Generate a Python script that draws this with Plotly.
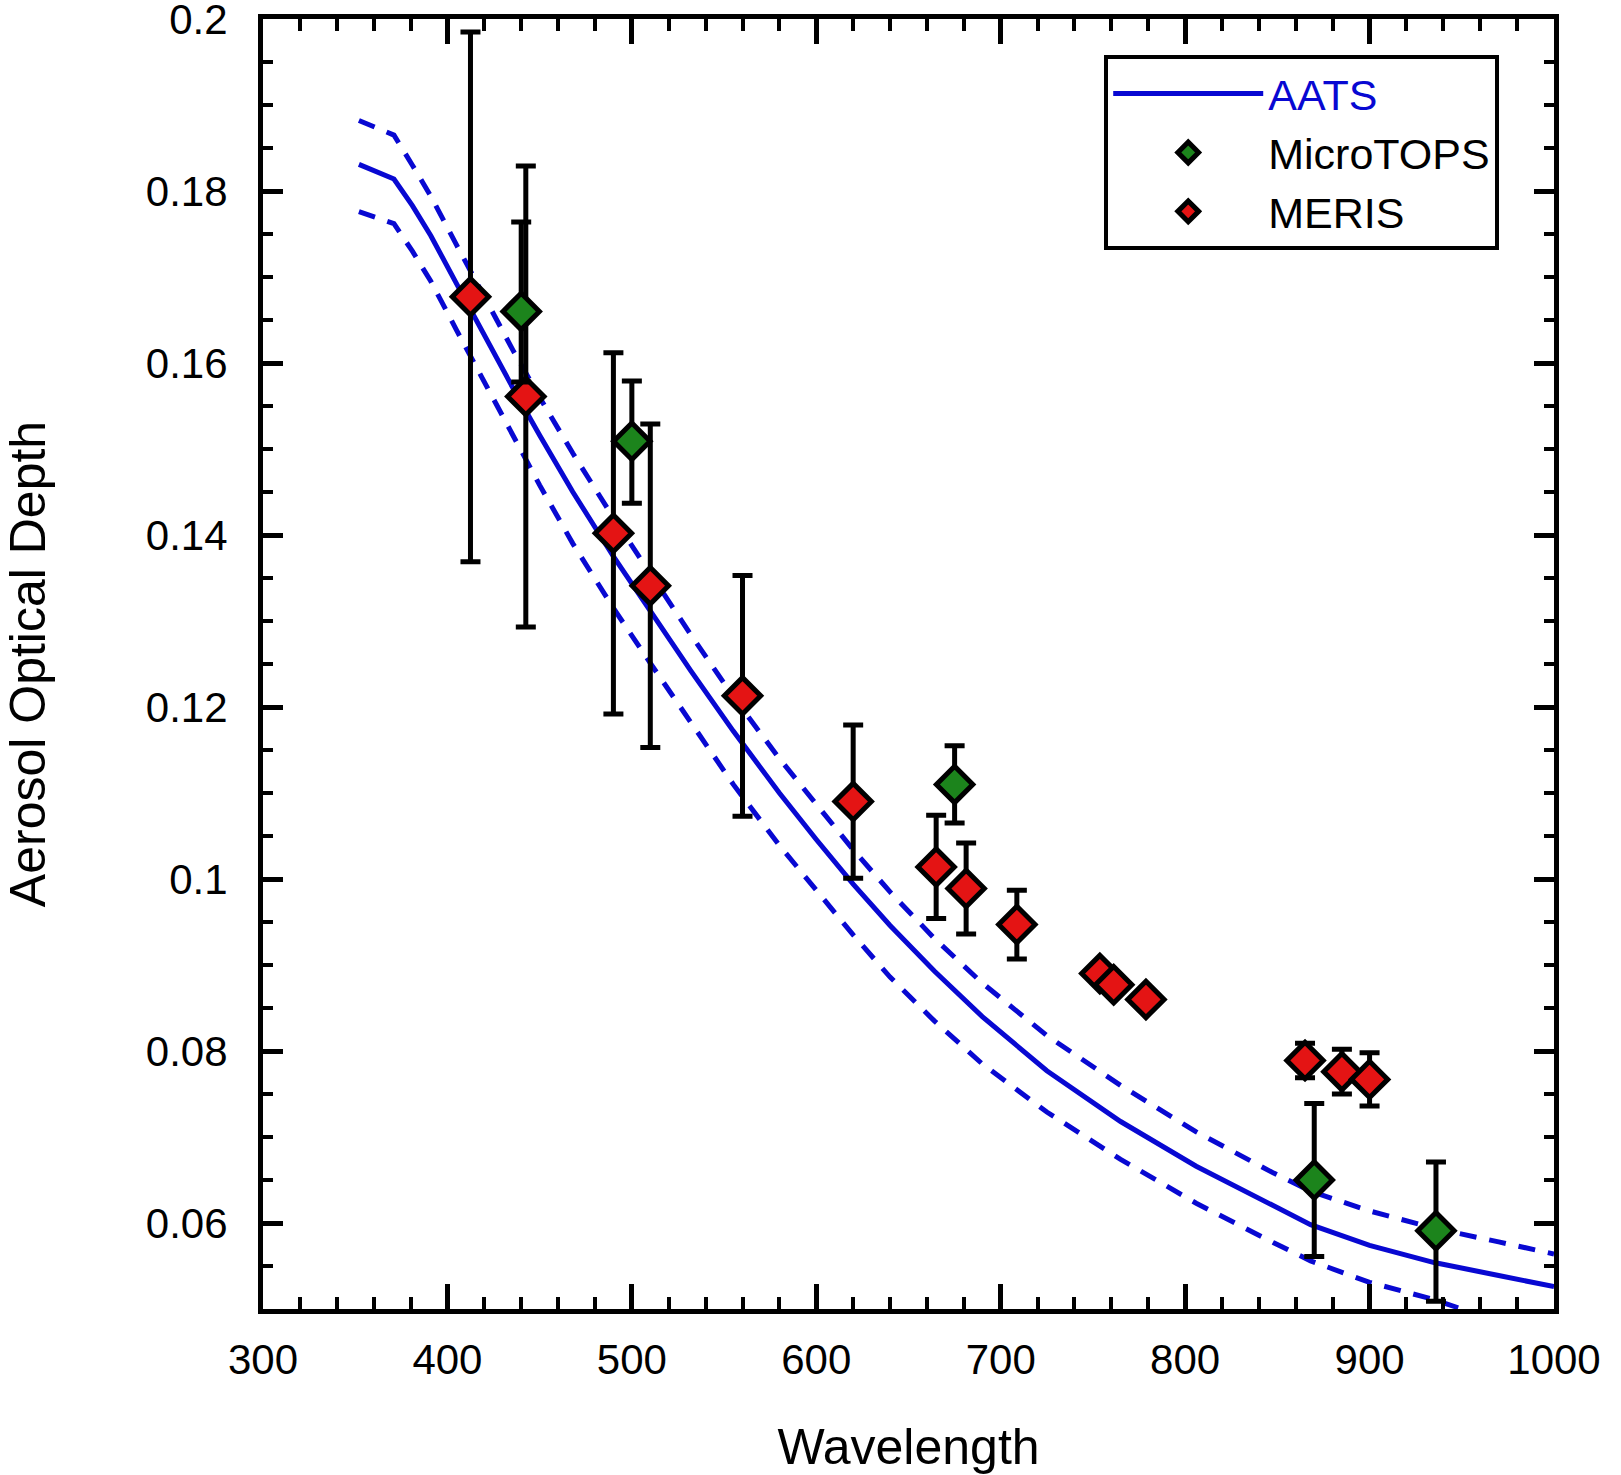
import plotly.graph_objects as go

# ---- AATS spectrum (solid) and uncertainty bounds (dashed) ----
aats_wl = [352, 371, 381, 391, 405, 420, 436, 450, 468, 490, 510, 532, 555, 580, 600, 620, 640, 664,
           690, 725, 765, 806, 848, 868, 900, 935, 970, 1000]
aats_aod = [0.1831, 0.1814, 0.1783, 0.1748, 0.1692, 0.1632, 0.1569, 0.1516, 0.1450, 0.1375, 0.1311,
            0.1242, 0.1172, 0.1100, 0.1046, 0.0994, 0.0946, 0.0893, 0.0840, 0.0777, 0.0718, 0.0666,
            0.0620, 0.0598, 0.0574, 0.0554, 0.0539, 0.0526]
aats_upper = [0.1882, 0.1865, 0.1830, 0.1794, 0.1737, 0.1676, 0.1613, 0.1560, 0.1495, 0.1420, 0.1355,
              0.1284, 0.1212, 0.1140, 0.1087, 0.1034, 0.0985, 0.0931, 0.0879, 0.0818, 0.0760, 0.0706,
              0.0658, 0.0637, 0.0614, 0.0594, 0.0578, 0.0564]
aats_lower_wl = [352, 371, 381, 391, 405, 420, 436, 450, 468, 490, 510, 532, 555, 580, 600, 620, 640,
                 664, 690, 725, 765, 806, 848, 868, 900, 935, 950]
aats_lower = [0.1776, 0.1762, 0.1730, 0.1695, 0.1638, 0.1577, 0.1512, 0.1458, 0.1390, 0.1315, 0.1251,
              0.1181, 0.1110, 0.1039, 0.0986, 0.0935, 0.0886, 0.0835, 0.0785, 0.0729, 0.0674, 0.0623,
              0.0577, 0.0556, 0.0531, 0.0511, 0.0500]

# ---- MicroTOPS ----
mt_wl = [440, 500, 675, 870, 936]
mt_aod = [0.1660, 0.1509, 0.1110, 0.0650, 0.0591]
mt_err_plus = [0.0104, 0.0070, 0.0045, 0.0089, 0.0080]
mt_err_minus = [0.0082, 0.0072, 0.0045, 0.0089, 0.0082]

# ---- MERIS ----
meris_wl = [412.5, 442.5, 490, 510, 560, 620, 665, 681.25, 708.75, 753.75, 761.25, 778.75, 865, 885, 900]
meris_aod = [0.1677, 0.1561, 0.1402, 0.1341, 0.1213, 0.1090, 0.1014, 0.0989, 0.0947, 0.0890, 0.0877,
             0.0860, 0.0789, 0.0776, 0.0767]
meris_err = [0.0308, 0.0268, 0.0210, 0.0188, 0.0140, 0.0089, 0.0060, 0.0053, 0.0040, 0.0010, 0.0010,
             0.0005, 0.0020, 0.0026, 0.0031]

# ---- axis ticks ----
y_tick_vals = [0.06, 0.08, 0.10, 0.12, 0.14, 0.16, 0.18, 0.20]
y_tick_text = ["0.06", "0.08", "0.1", "0.12", "0.14", "0.16", "0.18", "0.2"]

BLUE = "rgb(8,8,210)"
RED = "rgb(228,20,20)"
GREEN = "rgb(28,132,28)"
FONT = "Arial, Liberation Sans, sans-serif"

fig = go.Figure()

fig.add_trace(go.Scatter(x=aats_wl, y=aats_upper, mode="lines", showlegend=False,
                         line=dict(color=BLUE, width=5, dash="17px,13px")))
fig.add_trace(go.Scatter(x=aats_lower_wl, y=aats_lower, mode="lines", showlegend=False,
                         line=dict(color=BLUE, width=5, dash="17px,13px")))
fig.add_trace(go.Scatter(x=aats_wl, y=aats_aod, mode="lines",
                         name="<span style='color:rgb(8,8,210)'>AATS</span>",
                         legendrank=1, line=dict(color=BLUE, width=5)))

fig.add_trace(go.Scatter(
    x=meris_wl, y=meris_aod, mode="markers", name="MERIS", legendrank=3,
    marker=dict(symbol="diamond", size=28, color=RED, line=dict(color="black", width=5)),
    error_y=dict(type="data", array=meris_err, symmetric=True, color="black", thickness=5, width=10),
))
fig.add_trace(go.Scatter(
    x=mt_wl, y=mt_aod, mode="markers", name="MicroTOPS", legendrank=2,
    marker=dict(symbol="diamond", size=28, color=GREEN, line=dict(color="black", width=5)),
    error_y=dict(type="data", array=mt_err_plus, arrayminus=mt_err_minus, symmetric=False,
                 color="black", thickness=5, width=10),
))

fig.update_layout(
    width=1621, height=1475,
    margin=dict(l=263, r=67, t=19, b=166, autoexpand=False),
    paper_bgcolor="white", plot_bgcolor="white",
    font=dict(family=FONT, color="black", size=42),
    legend=dict(x=0.6516, y=0.972, xanchor="left", yanchor="top",
                bordercolor="black", borderwidth=4, bgcolor="white",
                font=dict(family=FONT, size=43, color="black"), itemwidth=150,
                tracegroupgap=0),
    xaxis=dict(range=[300, 1000], tick0=300, dtick=100, ticks="inside", ticklen=25, tickwidth=5,
               tickcolor="black", showline=True, linewidth=5, linecolor="black", mirror="ticks",
               showgrid=False, zeroline=False, tickfont=dict(size=42, family=FONT),
               ticklabeloverflow="allow", automargin=False,
               minor=dict(dtick=20, ticks="inside", ticklen=12, tickwidth=4, tickcolor="black", showgrid=False),
               title=dict(text="Wavelength", font=dict(size=50, family=FONT), standoff=48),
               ticklabelstandoff=10),
    yaxis=dict(range=[0.05, 0.2], tickmode="array", tickvals=y_tick_vals, ticktext=y_tick_text,
               ticks="inside", ticklen=20, tickwidth=5,
               tickcolor="black", showline=True, linewidth=5, linecolor="black", mirror="ticks",
               showgrid=False, zeroline=False, tickfont=dict(size=42, family=FONT),
               ticklabeloverflow="allow", automargin=False,
               minor=dict(tickmode="linear", tick0=0.05, dtick=0.005, ticks="inside", ticklen=10,
                          tickwidth=4, tickcolor="black", showgrid=False),
               title=dict(text="Aerosol Optical Depth", font=dict(size=50, family=FONT), standoff=100),
               ticklabelstandoff=22),
)

fig.write_html("out.html", config={"displayModeBar": False},
               post_script="document.body.style.margin='0px';")
